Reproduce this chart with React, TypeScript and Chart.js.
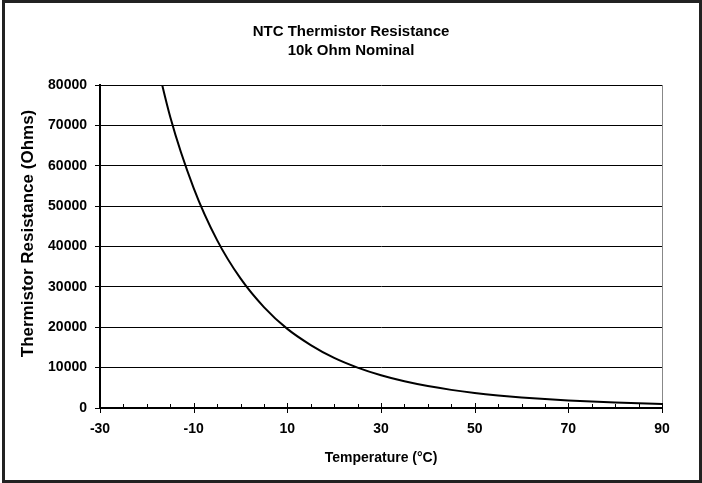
import React, { useEffect, useRef } from "react";
import { Chart, registerables } from "chart.js";

Chart.register(...registerables);

const temperatures = [-20, -15, -10, -5, 0, 5, 10, 15, 20, 25, 30, 35, 40, 45, 50, 55, 60, 65, 70, 75, 80, 85, 90];
const resistance = [96400, 72100, 54500, 41600, 32100, 25000, 19600, 15600, 12400, 10000, 8100, 6610, 5430, 4490, 3730, 3120, 2620, 2220, 1880, 1600, 1370, 1180, 1020];
const titleLines = ["NTC Thermistor Resistance", "10k Ohm Nominal"];
const xTitle = "Temperature (°C)";
const yTitle = "Thermistor Resistance (Ohms)";
const xMin = -30;
const xMax = 90;
const xStep = 20;
const xMinorStep = 5;
const yMin = 0;
const yMax = 80000;
const yStep = 10000;

const FONT = "'Liberation Sans', Arial, Helvetica, sans-serif";

const frameAndTicks = {
  id: "frameAndTicks",
  afterDraw(chart: any) {
    const ctx = chart.ctx;
    const xs = chart.scales.x;
    const area = chart.chartArea;
    ctx.save();
    ctx.strokeStyle = "#000";
    ctx.lineWidth = 1;
    for (let v = xMin; v <= xMax; v += xMinorStep) {
      const px = Math.round(xs.getPixelForValue(v)) + 0.5;
      const major = (v - xMin) % xStep === 0;
      ctx.beginPath();
      ctx.moveTo(px, area.bottom - (major ? 5 : 4));
      ctx.lineTo(px, area.bottom + (major ? 5 : 0));
      ctx.stroke();
    }
    // vertical axis title
    ctx.translate(28, chart.height / 2 - 8);
    ctx.rotate(-Math.PI / 2);
    ctx.fillStyle = "#000";
    ctx.font = `bold 17px ${FONT}`;
    ctx.textAlign = "center";
    ctx.textBaseline = "middle";
    ctx.fillText(yTitle, 0, 0);
    ctx.setTransform(1, 0, 0, 1, 0, 0);
    ctx.strokeStyle = "#222";
    ctx.lineWidth = 3;
    ctx.strokeRect(3.5, 1.5, chart.width - 5, chart.height - 3);
    ctx.restore();
  },
};

export default function App() {
  const ref = useRef<HTMLCanvasElement | null>(null);
  useEffect(() => {
    if (!ref.current) return;
    const chart = new Chart(ref.current, {
      type: "line",
      data: {
        datasets: [
          {
            data: temperatures.map((t, i) => ({ x: t, y: resistance[i] })),
            borderColor: "#000",
            borderWidth: 2,
            pointRadius: 0,
            cubicInterpolationMode: "monotone",
            fill: false,
            clip: 0,
          },
        ],
      },
      options: {
        responsive: false,
        animation: false,
        devicePixelRatio: 1,
        layout: { padding: { left: 0, right: 0, top: 0, bottom: 0 } },
        plugins: {
          legend: { display: false },
          tooltip: { enabled: false },
          title: {
            display: true,
            text: titleLines,
            color: "#000",
            font: { family: FONT, size: 15, weight: "bold", lineHeight: 1.27 },
            padding: { top: 22, bottom: 25 },
          },
        },
        scales: {
          x: {
            type: "linear",
            min: xMin,
            max: xMax,
            grid: { display: false },
            border: { display: true, color: "#000", width: 2 },
            ticks: {
              stepSize: xStep,
              autoSkip: false,
              maxRotation: 0,
              padding: 5,
              color: "#000",
              font: { family: FONT, size: 14, weight: "bold" },
            },
            title: {
              display: true,
              text: xTitle,
              color: "#000",
              font: { family: FONT, size: 14, weight: "bold" },
              padding: { top: 0, bottom: 16 },
            },
            afterFit(scale: any) {
              scale.height = 75;
            },
          },
          y: {
            type: "linear",
            position: "left",
            min: yMin,
            max: yMax,
            grid: { color: "#000", lineWidth: 1, tickLength: 5, drawTicks: true },
            border: { display: true, color: "#000", width: 2 },
            ticks: {
              stepSize: yStep,
              padding: 8,
              color: "#000",
              font: { family: FONT, size: 14, weight: "bold" },
              callback: (v: any) => String(v),
            },
            title: { display: false },
            afterFit(scale: any) {
              scale.width = 100;
            },
          },
          y2: {
            type: "linear",
            position: "right",
            display: true,
            grid: { display: false, drawTicks: false },
            border: { display: true, color: "#888", width: 1 },
            ticks: { display: false },
            afterFit(scale: any) {
              scale.width = 40;
            },
          },
        },
      },
      plugins: [frameAndTicks],
    } as any);
    return () => chart.destroy();
  }, []);
  return (
    <div style={{ position: "fixed", left: 0, top: 0, width: 702, height: 483, background: "#fff" }}>
      <canvas ref={ref} width={702} height={483} />
    </div>
  );
}
